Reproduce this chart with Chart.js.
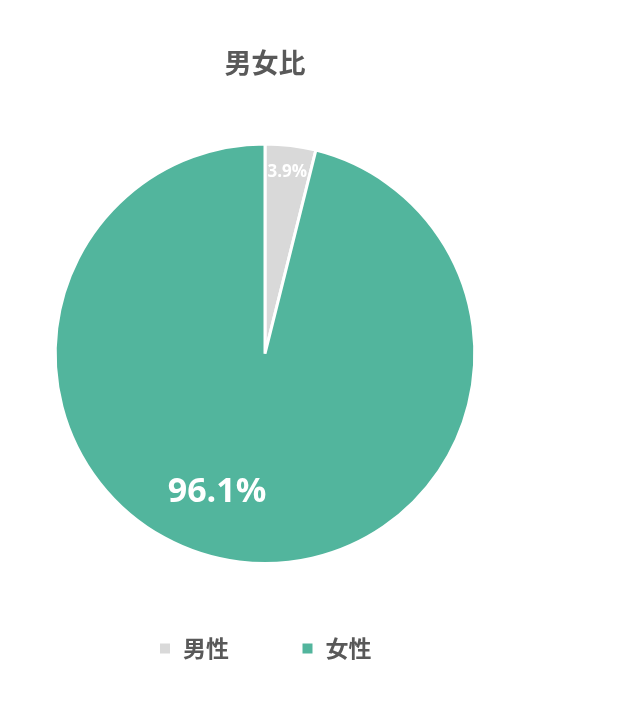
<!DOCTYPE html>
<html>
<head>
<meta charset="utf-8">
<script src="https://cdn.jsdelivr.net/npm/chart.js@4.4.0/dist/chart.umd.min.js"></script>
<style>
  html, body { margin: 0; padding: 0; background: #fff; }
  #wrap { position: relative; width: 530px; height: 706px; }
</style>
</head>
<body>
<div id="wrap"><canvas id="c"></canvas></div>
<script>
  var TITLE = "男女比";
  var LABELS = ["男性", "女性"];
  var VALUES = [3.9, 96.1];
  var COLORS = ["#d9d9d9", "#52b59d"];

  var CJK = '"Noto Sans CJK JP", "Noto Sans", sans-serif';
  var NUM = '"Open Sans", "Noto Sans", sans-serif';

  // 資料標籤：依扇形角度放在半徑比例處
  var pctLabels = {
    id: "pctLabels",
    afterDatasetsDraw: function (chart, args, opts) {
      var ctx = chart.ctx;
      var meta = chart.getDatasetMeta(0);
      meta.data.forEach(function (arc, i) {
        var mid = (arc.startAngle + arc.endAngle) / 2 + (opts.shift[i] || 0);
        var r = arc.outerRadius * opts.radius[i];
        var x = arc.x + Math.cos(mid) * r;
        var y = arc.y + Math.sin(mid) * r;
        ctx.save();
        ctx.fillStyle = "#fff";
        ctx.font = "bold " + opts.size[i] + "px " + NUM;
        ctx.textAlign = "center";
        ctx.textBaseline = "middle";
        ctx.fillText(VALUES[i].toFixed(1) + "%", x, y);
        ctx.restore();
      });
    }
  };

  new Chart(document.getElementById("c"), {
    type: "pie",
    data: {
      labels: LABELS,
      datasets: [{
        data: VALUES,
        backgroundColor: COLORS,
        borderColor: "#fff",
        borderWidth: 3
      }]
    },
    plugins: [pctLabels],
    options: {
      responsive: true,
      maintainAspectRatio: false,
      animation: false,
      layout: { padding: { top: 0, bottom: 36 } },
      plugins: {
        title: {
          display: true,
          text: TITLE,
          color: "#595959",
          font: { family: CJK, size: 27, weight: "bold" },
          padding: { top: 47, bottom: 63 }
        },
        legend: {
          position: "bottom",
          labels: {
            color: "#595959",
            font: { family: CJK, size: 23, weight: "bold" },
            boxWidth: 13,
            boxHeight: 13,
            padding: 72
          }
        },
        tooltip: { enabled: false },
        pctLabels: { radius: [0.87, 0.70], shift: [0, 0.21], size: [17, 34] }
      }
    }
  });
</script>
</body>
</html>
